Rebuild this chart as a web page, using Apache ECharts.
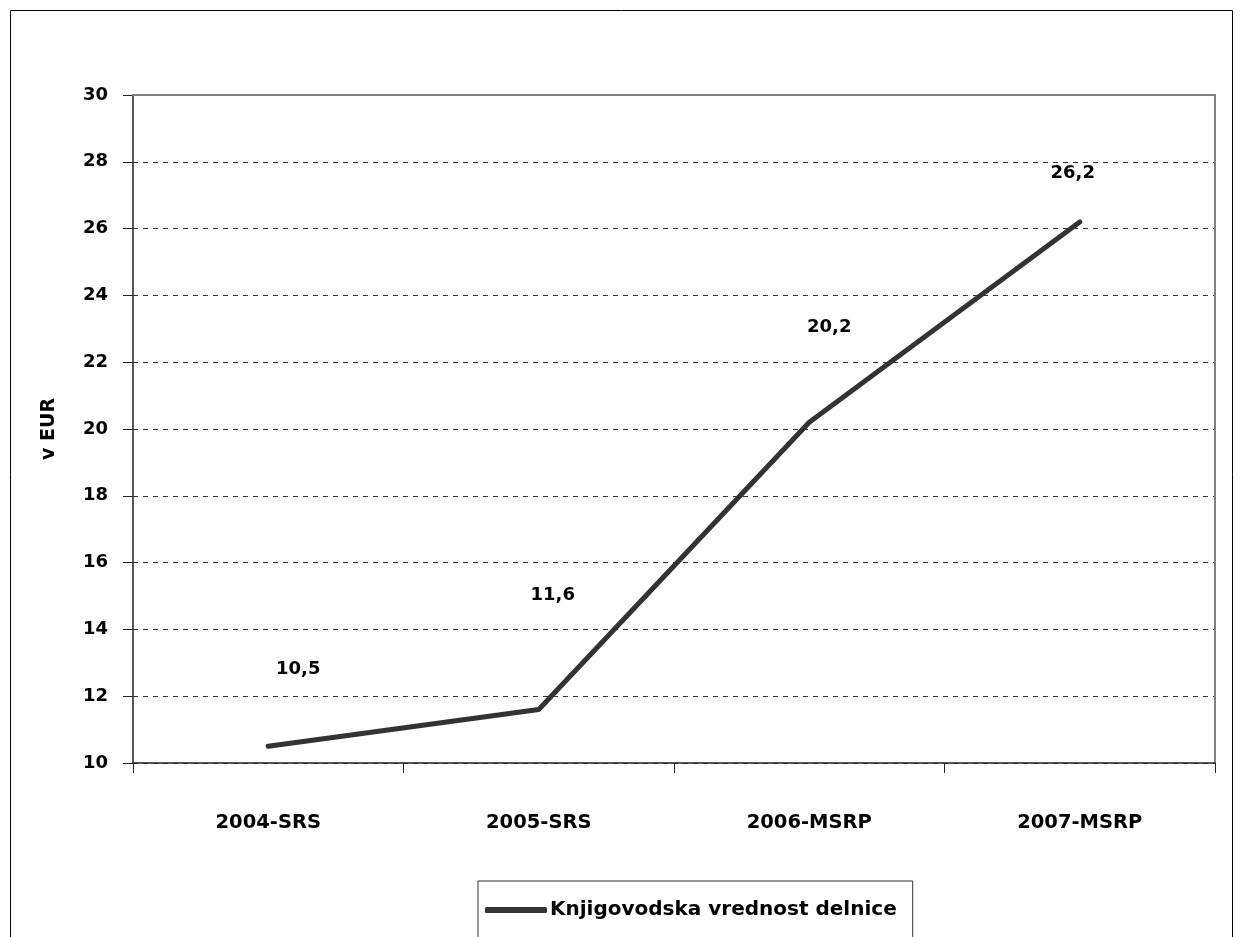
<!DOCTYPE html>
<html><head><meta charset="utf-8">
<script src="https://cdn.jsdelivr.net/npm/echarts@6/dist/echarts.min.js"></script>
<style>html,body{margin:0;padding:0;background:#fff}#c{width:1241px;height:937px}</style>
</head><body><div id="c"></div>
<script>
const categories = ['2004-SRS', '2005-SRS', '2006-MSRP', '2007-MSRP'];
const values = [10.5, 11.6, 20.2, 26.2];
const seriesName = 'Knjigovodska vrednost delnice';
const yAxisName = 'v EUR';

// label placement (styling, as manually placed in the original)
const labelShift = [[30, -77], [14, -114], [20, -95], [-7, -49]];

const FONT = '"DejaVu Sans", "Open Sans", sans-serif';
const frameAxis = {
  show: true,
  axisLine: {show: true, lineStyle: {color: '#808080', width: 2}},
  axisTick: {show: false}, axisLabel: {show: false}, splitLine: {show: false}
};
const chart = echarts.init(document.getElementById('c'), null, {renderer: 'canvas'});
chart.setOption({
  animation: false,
  backgroundColor: '#fff',
  graphic: [{
    type: 'rect', shape: {x: 10.5, y: 10.5, width: 1222, height: 1000},
    style: {fill: 'none', stroke: '#000', lineWidth: 1}, z: 0
  }],
  grid: {left: 133, right: 26, top: 95, bottom: 174, show: false},
  xAxis: [{
    type: 'category', data: categories, boundaryGap: true,
    axisLine: {lineStyle: {color: '#222', width: 1.5}},
    axisTick: {show: true, length: 10, lineStyle: {color: '#222', width: 1}},
    axisLabel: {color: '#000', fontFamily: FONT, fontWeight: 'bold', fontSize: 19.5, margin: 50},
    splitLine: {show: false}, z: 3
  }, Object.assign({type: 'category', data: categories, position: 'top', z: 3}, frameAxis)],
  yAxis: [{
    type: 'value', min: 10, max: 30, interval: 2,
    name: yAxisName, nameLocation: 'middle', nameGap: 74, nameRotate: 90,
    nameTextStyle: {color: '#000', fontFamily: FONT, fontWeight: 'bold', fontSize: 19},
    axisLine: {show: true, lineStyle: {color: '#222', width: 1.5}},
    axisTick: {show: true, length: 10, inside: false, lineStyle: {color: '#222', width: 1}},
    axisLabel: {color: '#000', fontFamily: FONT, fontWeight: 'bold', fontSize: 18, margin: 25},
    splitLine: {show: true, lineStyle: {color: '#333', width: 1, type: [5, 5]}}
  }, Object.assign({type: 'value', min: 10, max: 30, interval: 2, position: 'right', z: 3}, frameAxis)],
  legend: {
    data: [seriesName], left: 478, top: 881,
    padding: [19, 16, 60, 7],
    borderColor: '#333', borderWidth: 1, backgroundColor: '#fff',
    itemWidth: 62, itemHeight: 6, itemGap: 4, icon: 'roundRect',
    textStyle: {color: '#000', fontFamily: FONT, fontWeight: 'bold', fontSize: 20, padding: [0, 0, 0, -2]}
  },
  series: [{
    name: seriesName, type: 'line',
    data: values.map((v, i) => ({
      value: v,
      label: {offset: labelShift[i]}
    })),
    symbol: 'circle', symbolSize: 1, showSymbol: true,
    lineStyle: {color: '#333', width: 5, cap: 'round', join: 'round'},
    itemStyle: {color: '#333'},
    label: {
      show: true, position: 'inside',
      formatter: p => String(p.value).replace('.', ','),
      color: '#000', fontFamily: FONT, fontWeight: 'bold', fontSize: 18
    },
    z: 5
  }]
});
</script></body></html>
